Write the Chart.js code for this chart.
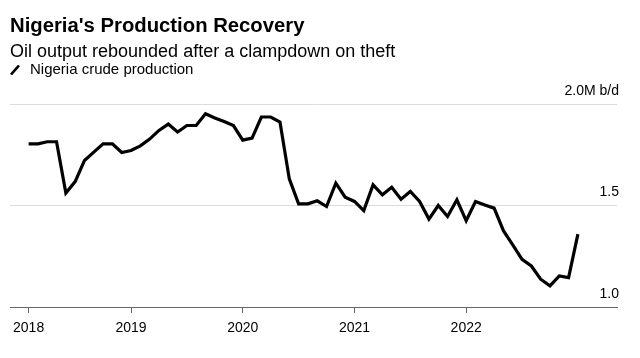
<!DOCTYPE html>
<html>
<head>
<meta charset="utf-8">
<script src="https://cdn.jsdelivr.net/npm/chart.js@4/dist/chart.umd.min.js"></script>
<style>
  html, body { margin: 0; padding: 0; background: #fff; }
  #wrap { position: relative; width: 640px; height: 358px; overflow: hidden; font-family: "Liberation Sans", Arial, sans-serif; }
  canvas { position: absolute; left: 0; top: 0; }
  .title { position: absolute; left: 10px; top: 13px; font-size: 20.3px; line-height: 24px; font-weight: bold; color: #000; white-space: nowrap; }
  .subtitle { position: absolute; left: 10px; top: 40.5px; font-size: 18px; line-height: 20px; color: #000; white-space: nowrap; }
  .legend { position: absolute; left: 10px; top: 60px; font-size: 15px; line-height: 17px; color: #000; white-space: nowrap; }
  .legend .swatch { display: inline-block; width: 10px; height: 10px; vertical-align: -1px; margin-right: 10px; }
</style>
</head>
<body>
<div id="wrap">
  <canvas id="c" width="640" height="358"></canvas>
  <div class="title">Nigeria's Production Recovery</div>
  <div class="subtitle">Oil output rebounded after a clampdown on theft</div>
  <div class="legend"><svg class="swatch" viewBox="0 0 10 10"><line x1="1" y1="9.5" x2="9" y2="0.5" stroke="#000" stroke-width="2.6"/></svg>Nigeria crude production</div>
</div>
<script>
// Month index: 0 = Jan 2018. Series starts Feb 2018 (index 1), monthly to Jan 2023.
const startMonth = 1;
const production = [
  1.804, 1.804, 1.814, 1.814, 1.561, 1.618, 1.722, 1.763, 1.804, 1.804, 1.761,   // Feb-Dec 2018
  1.771, 1.794, 1.827, 1.870, 1.901, 1.862, 1.894, 1.894, 1.952, 1.931, 1.914, 1.894, // 2019
  1.822, 1.832, 1.936, 1.936, 1.911, 1.631, 1.508, 1.508, 1.523, 1.495, 1.610, 1.541, // 2020
  1.520, 1.475, 1.602, 1.553, 1.590, 1.531, 1.569, 1.520, 1.433, 1.500, 1.446, 1.528, // 2021
  1.425, 1.520, 1.503, 1.487, 1.376, 1.306, 1.235, 1.202, 1.137, 1.104, 1.153, 1.145, // 2022
  1.359  // Jan 2023
];
const xTickMonths = [1, 12, 24, 36, 48];
const xTickLabels = ['2018', '2019', '2020', '2021', '2022'];
const yTickValues = [1.0, 1.5, 2.0];
const yTickLabels = ['1.0', '1.5', '2.0M b/d'];
const xMin = -1, xMax = 64.2;
const yMin = 1.0, yMax = 2.0;

const points = production.map((v, i) => ({ x: startMonth + i, y: v }));

new Chart(document.getElementById('c'), {
  type: 'line',
  data: {
    datasets: [{
      label: 'Nigeria crude production',
      data: points,
      borderColor: '#000',
      borderWidth: 3.2,
      pointRadius: 0,
      tension: 0,
      fill: false,
      clip: false
    }]
  },
  options: {
    responsive: false,
    animation: false,
    events: [],
    layout: { padding: { left: 10, right: 23, top: 104, bottom: 0 } },
    plugins: { legend: { display: false }, tooltip: { enabled: false }, title: { display: false } },
    scales: {
      x: {
        type: 'linear',
        min: xMin, max: xMax,
        afterBuildTicks: (s) => { s.ticks = xTickMonths.map(v => ({ value: v })); },
        afterFit: (s) => { s.height = 51; },
        grid: { display: true, drawOnChartArea: false, drawTicks: true, tickLength: 6, tickColor: '#666', tickWidth: 1 },
        border: { display: true, color: '#666', width: 1 },
        ticks: {
          autoSkip: false, maxRotation: 0, padding: 7, color: '#000',
          font: { family: '"Liberation Sans", Arial, sans-serif', size: 14 },
          callback: (v) => { const k = xTickMonths.indexOf(v); return k >= 0 ? xTickLabels[k] : ''; }
        }
      },
      y: {
        type: 'linear',
        position: 'right',
        min: yMin, max: yMax,
        afterBuildTicks: (s) => { s.ticks = yTickValues.map(v => ({ value: v })); },
        afterFit: (s) => { s.width = 0; },
        grid: { color: '#dcdcdc', lineWidth: 1, drawTicks: false },
        border: { display: false },
        ticks: {
          mirror: true, padding: 2, labelOffset: -13, color: '#000',
          font: { family: '"Liberation Sans", Arial, sans-serif', size: 14 },
          callback: (v) => { const k = yTickValues.indexOf(v); return k >= 0 ? yTickLabels[k] : ''; }
        }
      }
    }
  }
});
</script>
</body>
</html>
